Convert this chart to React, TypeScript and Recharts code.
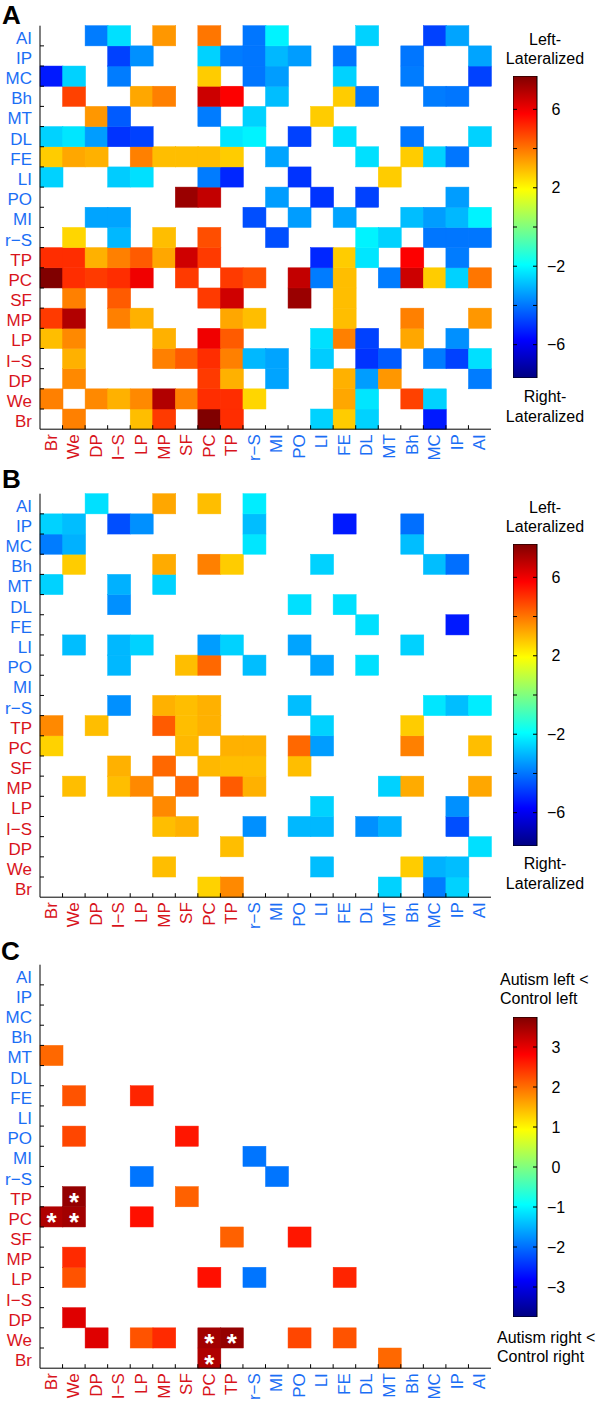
import { Bar, BarChart, XAxis, YAxis } from 'recharts';

// regions, bottom (Br) to top (AI); same order left to right on the x axis
const LABELS = ['Br', 'We', 'DP', 'I\u2212S', 'LP', 'MP', 'SF', 'PC', 'TP', 'r\u2212S', 'MI', 'PO', 'LI', 'FE', 'DL', 'MT', 'Bh', 'MC', 'IP', 'AI'];
const KEYS = ['Br', 'We', 'DP', 'I-S', 'LP', 'MP', 'SF', 'PC', 'TP', 'r-S', 'MI', 'PO', 'LI', 'FE', 'DL', 'MT', 'Bh', 'MC', 'IP', 'AI'];
const RED_LABELS = 9;

type Pair = [string, string, number];

// A: lateralization, symmetric matrix (only one half listed)
const pairsA: Pair[] = [
  ['AI', 'DP', -3.9], ['AI', 'I-S', -2.4], ['AI', 'MP', 3.5], ['AI', 'PC', 4.0], ['AI', 'r-S', -4.0], ['AI', 'MI', -2.1], ['AI', 'DL', -2.6], ['AI', 'MC', -4.8], ['AI', 'IP', -3.3],
  ['IP', 'I-S', -4.8], ['IP', 'LP', -3.6], ['IP', 'PC', -2.6], ['IP', 'TP', -3.9], ['IP', 'r-S', -4.0], ['IP', 'MI', -3.0], ['IP', 'PO', -3.4], ['IP', 'FE', -4.0], ['IP', 'Bh', -4.0],
  ['MC', 'Br', -5.4], ['MC', 'We', -2.6], ['MC', 'I-S', -3.9], ['MC', 'PC', 2.7], ['MC', 'r-S', -4.0], ['MC', 'MI', -3.4], ['MC', 'FE', -2.6], ['MC', 'Bh', -3.9],
  ['Bh', 'We', 4.8], ['Bh', 'LP', 3.25], ['Bh', 'MP', 3.85], ['Bh', 'PC', 6.55], ['Bh', 'TP', 5.8], ['Bh', 'MI', -2.9], ['Bh', 'FE', 2.7], ['Bh', 'DL', -4.0],
  ['MT', 'DP', 3.5], ['MT', 'I-S', -4.4], ['MT', 'PC', -3.9], ['MT', 'r-S', -2.6], ['MT', 'LI', 2.7],
  ['DL', 'Br', -2.6], ['DL', 'We', -2.3], ['DL', 'DP', -3.4], ['DL', 'I-S', -5.0], ['DL', 'LP', -4.8], ['DL', 'TP', -2.3], ['DL', 'r-S', -2.1], ['DL', 'PO', -4.8], ['DL', 'FE', -2.4],
  ['FE', 'Br', 2.7], ['FE', 'We', 3.25], ['FE', 'DP', 3.1], ['FE', 'LP', 3.85], ['FE', 'MP', 2.9], ['FE', 'SF', 2.9], ['FE', 'PC', 2.9], ['FE', 'TP', 2.7], ['FE', 'MI', -3.3],
  ['LI', 'Br', -2.6], ['LI', 'I-S', -2.7], ['LI', 'LP', -2.4], ['LI', 'PC', -3.9], ['LI', 'TP', -5.2], ['LI', 'PO', -5.0],
  ['PO', 'SF', 7.3], ['PO', 'PC', 6.7], ['PO', 'MI', -3.4],
  ['MI', 'DP', -3.3], ['MI', 'I-S', -3.3], ['MI', 'r-S', -4.6],
  ['r-S', 'We', 2.55], ['r-S', 'I-S', -3.0], ['r-S', 'MP', 2.9], ['r-S', 'PC', 4.6],
  ['TP', 'Br', 5.1], ['TP', 'We', 5.1], ['TP', 'DP', 3.1], ['TP', 'I-S', 3.85], ['TP', 'LP', 4.4], ['TP', 'MP', 3.25], ['TP', 'SF', 6.5], ['TP', 'PC', 4.9],
  ['PC', 'Br', 7.7], ['PC', 'We', 5.1], ['PC', 'DP', 4.9], ['PC', 'I-S', 5.1], ['PC', 'LP', 6.0], ['PC', 'SF', 4.9],
  ['SF', 'We', 3.85], ['SF', 'I-S', 4.4],
  ['MP', 'Br', 4.9], ['MP', 'We', 6.95], ['MP', 'I-S', 3.85], ['MP', 'LP', 3.1],
  ['LP', 'Br', 2.9], ['LP', 'We', 3.7],
  ['I-S', 'We', 3.1],
  ['DP', 'We', 3.7],
  ['We', 'Br', 3.85],
];

const pairsB: Pair[] = [
  ['AI', 'DP', -2.4], ['AI', 'MP', 3.25], ['AI', 'PC', 2.9], ['AI', 'r-S', -2.2],
  ['IP', 'Br', -2.6], ['IP', 'We', -2.9], ['IP', 'I-S', -4.6], ['IP', 'LP', -3.6], ['IP', 'r-S', -2.9], ['IP', 'FE', -5.4], ['IP', 'Bh', -4.1],
  ['MC', 'Br', -3.9], ['MC', 'We', -3.1], ['MC', 'r-S', -2.3], ['MC', 'Bh', -2.9],
  ['Bh', 'We', 2.7], ['Bh', 'MP', 3.2], ['Bh', 'PC', 3.85], ['Bh', 'TP', 2.7], ['Bh', 'LI', -2.6],
  ['MT', 'Br', -2.6], ['MT', 'I-S', -3.1], ['MT', 'MP', -2.6],
  ['DL', 'I-S', -3.6], ['DL', 'PO', -2.4], ['DL', 'FE', -2.4],
  ['LI', 'We', -2.9], ['LI', 'I-S', -3.0], ['LI', 'LP', -2.6], ['LI', 'PC', -3.4], ['LI', 'TP', -2.6], ['LI', 'PO', -3.3],
  ['PO', 'I-S', -3.0], ['PO', 'SF', 2.9], ['PO', 'PC', 4.2], ['PO', 'r-S', -2.9],
  ['r-S', 'I-S', -3.6], ['r-S', 'MP', 3.1], ['r-S', 'SF', 2.9], ['r-S', 'PC', 3.1],
  ['TP', 'Br', 3.7], ['TP', 'DP', 2.9], ['TP', 'MP', 4.4], ['TP', 'SF', 2.9], ['TP', 'PC', 3.1],
  ['PC', 'Br', 2.6], ['PC', 'SF', 3.0],
  ['SF', 'I-S', 3.1], ['SF', 'MP', 4.2],
  ['MP', 'We', 2.9], ['MP', 'I-S', 2.9], ['MP', 'LP', 3.7],
];

// C: autism vs control difference
const pairsC: Pair[] = [
  ['MT', 'Br', 2.05], ['FE', 'We', 2.2], ['FE', 'LP', 2.55], ['PO', 'We', 2.3], ['PO', 'SF', 2.65],
  ['MI', 'r-S', -1.95], ['r-S', 'LP', -1.95], ['TP', 'We', 3.6], ['TP', 'SF', 2.1],
  ['PC', 'Br', 3.4], ['PC', 'We', 3.5], ['PC', 'LP', 2.7], ['MP', 'We', 2.5], ['LP', 'We', 2.2], ['DP', 'We', 3.05],
];
const starsC: [string, string][] = [['PC', 'Br'], ['PC', 'We'], ['TP', 'We']];

const ticksA = [-6, -4, -2, 0, 2, 4, 6];
const labelsA = [-6, -2, 2, 6];
const ticksC = [-3, -2, -1, 0, 1, 2, 3];

const BLUE = '#1b6ef5';
const RED = '#d8141c';
const FONT = '"Liberation Sans", Arial, sans-serif';
const PW = 451;
const PH = 403.5;
const CW = PW / 20;
const CH = PH / 20;

const clamp = (v: number) => Math.max(0, Math.min(1, v));
const jet = (t: number) => {
  const r = clamp(1.5 - Math.abs(4 * t - 3));
  const g = clamp(1.5 - Math.abs(4 * t - 2));
  const b = clamp(1.5 - Math.abs(4 * t - 1));
  return `rgb(${Math.round(r * 255)},${Math.round(g * 255)},${Math.round(b * 255)})`;
};

function buildMatrix(pairs: Pair[]) {
  const m: (number | null)[][] = KEYS.map(() => KEYS.map(() => null));
  pairs.forEach(([a, b, v]) => {
    const i = KEYS.indexOf(a);
    const j = KEYS.indexOf(b);
    m[i][j] = v;
    m[j][i] = v;
  });
  return m;
}

function buildStars(stars: [string, string][]) {
  const s = new Set<string>();
  stars.forEach(([a, b]) => {
    s.add(KEYS.indexOf(a) + ':' + KEYS.indexOf(b));
    s.add(KEYS.indexOf(b) + ':' + KEYS.indexOf(a));
  });
  return s;
}

const rowData = KEYS.map((k) => {
  const d: Record<string, any> = { name: k };
  KEYS.forEach((_, i) => (d['r' + i] = 1));
  return d;
});
const centerTicks = KEYS.map((_, i) => i + 0.5);
const gradStops = [
  [0, '#800000'], [0.125, '#ff0000'], [0.375, '#ffff00'], [0.625, '#00ffff'], [0.875, '#0000ff'], [1, '#000080'],
];

function XTick({ x, y, index }: any) {
  return (
    <g>
      <text transform={`translate(${x},${y + 5}) rotate(-90)`} textAnchor="end" dominantBaseline="central"
        fontSize={17} fontFamily={FONT} fill={index < RED_LABELS ? RED : BLUE}>{LABELS[index]}</text>
      {index < 19 && <line x1={x + CW / 2} x2={x + CW / 2} y1={y} y2={y - 4} stroke="#000" />}
    </g>
  );
}
function TopTick({ x, y, index }: any) {
  return index < 19 ? <line x1={x + CW / 2} x2={x + CW / 2} y1={y} y2={y + 4} stroke="#000" /> : <g />;
}
function YTick({ x, y, payload }: any) {
  const i = Math.floor(payload.value);
  return (
    <g>
      <text x={x - 8} y={y + 8} textAnchor="end" fontSize={17} fontFamily={FONT} fill={i < RED_LABELS ? RED : BLUE}>{LABELS[i]}</text>
      {i < 19 && <line x1={x} x2={x + 4} y1={y - CH / 2} y2={y - CH / 2} stroke="#000" />}
    </g>
  );
}
function RightTick({ x, y, payload }: any) {
  const i = Math.floor(payload.value);
  return i < 19 ? <line x1={x} x2={x - 4} y1={y - CH / 2} y2={y - CH / 2} stroke="#000" /> : <g />;
}

function Heatmap({ pairs, stars, lo, hi, top }: { pairs: Pair[]; stars?: [string, string][]; lo: number; hi: number; top: number }) {
  const m = buildMatrix(pairs);
  const starSet = buildStars(stars || []);
  const cellShape = (p: any, i: number) => {
    const j = p.index;
    const v = m[i][j];
    if (v == null) return <g />;
    const fill = jet((v - lo) / (hi - lo));
    return (
      <g>
        <rect x={p.x} y={p.y} width={p.width} height={p.height} fill={fill} stroke={fill} strokeWidth={0.5} />
        {starSet.has(i + ':' + j) && (
          <text x={p.x + p.width / 2} y={p.y + p.height / 2 + 14.5} textAnchor="middle" fontSize={26} fontWeight="bold" fontFamily={FONT} fill="#fff">*</text>
        )}
      </g>
    );
  };
  return (
    <div style={{ position: 'absolute', left: 0, top }}>
      <BarChart width={500} height={25.7 + PH + 50} data={rowData} margin={{ top: 25.7, right: 9, left: 0, bottom: 0 }} barCategoryGap={0} barGap={0}>
        <XAxis xAxisId="x" dataKey="name" type="category" height={50} interval={0} tickSize={0} tickMargin={0} tickLine={false} axisLine={{ stroke: '#000' }} tick={<XTick />} />
        <XAxis xAxisId="top" orientation="top" dataKey="name" type="category" height={0} interval={0} tickSize={0} tickMargin={0} tickLine={false} axisLine={{ stroke: '#000' }} tick={<TopTick />} />
        <YAxis yAxisId="y" type="number" domain={[0, 20]} ticks={centerTicks} width={40} interval={0} tickSize={0} tickMargin={0} tickLine={false} axisLine={{ stroke: '#000' }} tick={<YTick />} />
        <YAxis yAxisId="right" orientation="right" type="number" domain={[0, 20]} ticks={centerTicks} width={0} interval={0} tickSize={0} tickMargin={0} tickLine={false} axisLine={{ stroke: '#000' }} tick={<RightTick />} />
        {KEYS.map((_, i) => (
          <Bar key={i} dataKey={'r' + i} stackId="s" xAxisId="x" yAxisId="y" isAnimationActive={false} shape={(p: any) => cellShape(p, i)} />
        ))}
      </BarChart>
    </div>
  );
}

function Colorbar({ id, lo, hi, ticks, labeled, top, height }: { id: string; lo: number; hi: number; ticks: number[]; labeled: number[]; top: number; height: number }) {
  const CbTick = ({ x, y, payload }: any) => (
    <g>
      <line x1={x - 24} x2={x - 20} y1={y} y2={y} stroke="#000" />
      <line x1={x - 4} x2={x} y1={y} y2={y} stroke="#000" />
      {labeled.includes(payload.value) && (
        <text x={x + 19} y={y + 5.7} textAnchor="middle" fontSize={16} fontFamily={FONT} fill="#000">
          {String(payload.value).replace('-', '\u2212')}
        </text>
      )}
    </g>
  );
  return (
    <div style={{ position: 'absolute', left: 513, top: top - 10 }}>
      <BarChart width={84} height={height + 20} data={[{ name: 'c', range: [lo, hi] }]} margin={{ top: 10, right: 0, left: 0, bottom: 10 }} barCategoryGap={0}>
        <defs>
          <linearGradient id={id} x1="0" y1="0" x2="0" y2="1">
            {gradStops.map(([o, c]) => <stop key={o} offset={o as number} stopColor={c as string} />)}
          </linearGradient>
        </defs>
        <XAxis dataKey="name" hide />
        <YAxis orientation="right" type="number" domain={[lo, hi]} ticks={ticks} width={60} interval={0} tickSize={0} tickMargin={0} tickLine={false} axisLine={false} allowDataOverflow tick={<CbTick />} />
        <Bar dataKey="range" fill={`url(#${id})`} stroke="#000" strokeWidth={1} isAnimationActive={false} />
      </BarChart>
    </div>
  );
}

const capStyle = { fontSize: 16, fontFamily: FONT, fill: '#000' };

export default function App() {
  const dB = 467.5;
  return (
    <div style={{ position: 'absolute', left: 0, top: 0, width: 600, height: 1404, background: '#fff', fontFamily: FONT }}>
      <Heatmap pairs={pairsA} lo={-7.7} hi={7.7} top={0} />
      <Heatmap pairs={pairsB} lo={-7.7} hi={7.7} top={dB} />
      <Heatmap pairs={pairsC} stars={starsC} lo={-3.75} hi={3.75} top={938.6} />
      <Colorbar id="jetA" lo={-7.7} hi={7.7} ticks={ticksA} labeled={labelsA} top={76} height={302} />
      <Colorbar id="jetB" lo={-7.7} hi={7.7} ticks={ticksA} labeled={labelsA} top={76 + dB} height={302} />
      <Colorbar id="jetC" lo={-3.75} hi={3.75} ticks={ticksC} labeled={ticksC} top={1016.7} height={300} />
      <svg width={600} height={1404} style={{ position: 'absolute', left: 0, top: 0, pointerEvents: 'none' }}>
        <text x={2} y={24} fontSize={26} fontWeight="bold" fontFamily={FONT}>A</text>
        <text x={2} y={488} fontSize={26} fontWeight="bold" fontFamily={FONT}>B</text>
        <text x={1} y={959.5} fontSize={26} fontWeight="bold" fontFamily={FONT}>C</text>
        {[0, dB].map((d) => (
          <g key={d} textAnchor="middle">
            <text x={545} y={45 + d} {...capStyle}>Left-</text>
            <text x={545} y={64 + d} {...capStyle}>Lateralized</text>
            <text x={545} y={401.7 + d} {...capStyle}>Right-</text>
            <text x={545} y={421.7 + d} {...capStyle}>Lateralized</text>
          </g>
        ))}
        <text x={500} y={985} {...capStyle}>Autism left &lt;</text>
        <text x={500} y={1004.3} {...capStyle}>Control left</text>
        <text x={497} y={1342.7} {...capStyle}>Autism right &lt;</text>
        <text x={497} y={1362} {...capStyle}>Control right</text>
      </svg>
    </div>
  );
}
